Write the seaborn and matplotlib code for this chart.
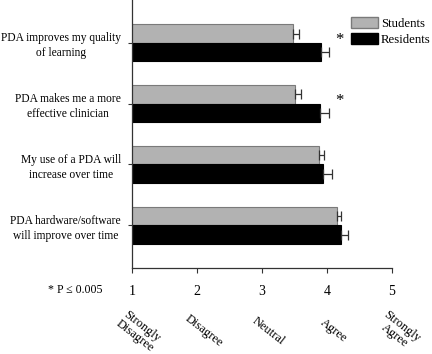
import pandas as pd
import seaborn as sns
import matplotlib.pyplot as plt

# survey statements (y categories)
statements = ['PDA improves my quality\nof learning',
              'PDA makes me a more\neffective clinician',
              'My use of a PDA will\nincrease over time',
              'PDA hardware/software\nwill improve over time']
groups = ['Students', 'Residents']
students_mean = [3.47, 3.51, 3.87, 4.15]
residents_mean = [3.90, 3.89, 3.94, 4.21]
students_err = [0.10, 0.09, 0.08, 0.07]
residents_err = [0.13, 0.14, 0.14, 0.12]
scale_ticks = [1, 2, 3, 4, 5]
scale_labels = ['Strongly\nDisagree', 'Disagree', 'Neutral', 'Agree', 'Strongly\nAgree']
signif = [True, True, False, False]

df = pd.DataFrame({
    'statement': statements * 2,
    'group': ['Students'] * 4 + ['Residents'] * 4,
    'score': students_mean + residents_mean,
})

plt.rcParams['font.family'] = ['Liberation Serif', 'DejaVu Serif']
fig = plt.figure(figsize=(4.32, 3.54), dpi=100)
ax = fig.add_axes([0.3056, 0.2429, 0.6018, 0.7571])

sns.barplot(data=df, y='statement', x='score', hue='group', orient='h',
            order=statements, hue_order=groups,
            palette={'Students': '#b2b2b2', 'Residents': 'black'},
            width=0.6, errorbar=None, ax=ax, legend=False)

edge = {'Students': '#7a7a7a', 'Residents': 'black'}
errs = {'Students': students_err, 'Residents': residents_err}
for cont, g in zip(ax.containers, groups):
    for bar, e in zip(cont, errs[g]):
        bar.set_edgecolor(edge[g])
        bar.set_linewidth(0.8)
        ax.errorbar(bar.get_width(), bar.get_y() + bar.get_height() / 2,
                    xerr=[[0], [e]], fmt='none', ecolor='#333333',
                    elinewidth=0.9, capsize=3.5, capthick=0.9)

# significance stars
for i, s in enumerate(signif):
    if s:
        top = max(students_mean[i] + students_err[i], residents_mean[i] + residents_err[i])
        ax.text(top + 0.16, i - 0.05, '*', fontsize=12, ha='center', va='center')

ax.set_xlim(1, 5)
ax.set_ylim(3.7, -0.7)
ax.set_xticks(scale_ticks)
ax.set_xticklabels([str(t) for t in scale_ticks], fontsize=10)
ax.tick_params(axis='x', direction='out', length=3.5, pad=9, color='#333333')
ax.tick_params(axis='y', direction='out', length=3, pad=5, color='#333333')
ax.set_yticks(range(len(statements)))
ax.set_yticklabels(statements, fontsize=8.3, multialignment='center',
                   linespacing=1.35)
ax.set_xlabel('')
ax.set_ylabel('')
for side in ['top', 'right']:
    ax.spines[side].set_visible(False)
for side in ['left', 'bottom']:
    ax.spines[side].set_color('#333333')
    ax.spines[side].set_linewidth(0.9)

# scale descriptions under the numbers
xt = ax.get_xaxis_transform()
for t, lab in zip(scale_ticks, scale_labels):
    ax.text(t + 0.1, -0.235, lab, transform=xt, rotation=-38, fontsize=9,
            ha='center', va='center', rotation_mode='anchor',
            multialignment='center', linespacing=1.0)

fig.text(103 / 432, 1 - 290 / 354, '* P \u2264 0.005', fontsize=8.6,
         ha='right', va='center')

handles = [plt.Rectangle((0, 0), 1, 1, facecolor='#b2b2b2', edgecolor='#7a7a7a'),
           plt.Rectangle((0, 0), 1, 1, facecolor='black', edgecolor='black')]
fig.legend(handles, groups, loc='upper left', bbox_to_anchor=(0.8125, 0.952),
           bbox_transform=fig.transFigure, frameon=False, fontsize=9.2,
           borderpad=0, borderaxespad=0, handlelength=2.1, handleheight=0.9,
           handletextpad=0.25, labelspacing=0.25)

plt.savefig('out.png', dpi=100)
